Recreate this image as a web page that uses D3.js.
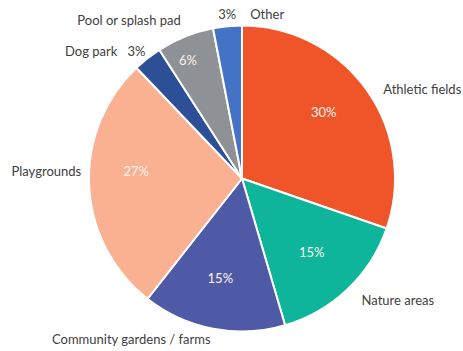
<!DOCTYPE html>
<html>
<head>
<meta charset="utf-8">
<script src="https://cdn.jsdelivr.net/npm/d3@7"></script>
<style>
  html, body { margin: 0; padding: 0; background: #fff; }
  svg { display: block; font-family: Lato, "Open Sans", sans-serif; }
</style>
</head>
<body>
<svg id="chart" width="463" height="351"></svg>
<script>
// Share of responses by amenity type (percent), clockwise from 12 o'clock
const categories = ["Athletic fields", "Nature areas", "Community gardens / farms", "Playgrounds", "Dog park", "Pool or splash pad", "Other"];
const values = [30, 15, 15, 27, 3, 6, 3];
const percentLabels = ["30%", "15%", "15%", "27%", "3%", "6%", "3%"];
const colors = ["#F0552A", "#0EB59B", "#4F5AA7", "#F9B191", "#2D4F96", "#8E9195", "#4472C4"];

const W = 463, H = 351;
const cx = 242, cy = 178.5, r = 153;
const fontSize = 13;

// Per-slice label placement: where the percentage goes (inside or outside)
// and small nudges for the labels around their anchor points.
const pctInside = [true, true, true, true, false, true, false];
const pctRadius = [104, 104, 104, 106, 166, 129, 166];
const nameNudge = [[6, 7], [5, 1.5], [0, -2.5], [5, -15], [-22, 3], [0.5, -4.5], [24, 1]];
const pctNudge = [[-3, -6], [-2, -2], [-2, -3], [0, -13], [6, 3], [-6, 1], [10, 1]];

const svg = d3.select("#chart");
const g = svg.append("g").attr("transform", `translate(${cx},${cy})`);

const pie = d3.pie().sort(null).value(d => d.value);
const arcs = pie(categories.map((c, i) => ({ name: c, value: values[i], i })));
const arc = d3.arc().innerRadius(0).outerRadius(r);

g.selectAll("path.slice")
  .data(arcs)
  .join("path")
  .attr("class", "slice")
  .attr("d", arc)
  .attr("fill", d => colors[d.data.i])
  .attr("stroke", "#fff")
  .attr("stroke-width", 2)
  .attr("stroke-linejoin", "round");

const mid = d => (d.startAngle + d.endAngle) / 2;
const at = (d, R) => [R * Math.sin(mid(d)), -R * Math.cos(mid(d))];

// Percentage labels
g.selectAll("text.pct")
  .data(arcs)
  .join("text")
  .attr("class", "pct")
  .each(function (d) {
    const i = d.data.i;
    const [x, y] = at(d, pctRadius[i]);
    const s = Math.sin(mid(d));
    d3.select(this)
      .attr("x", x + pctNudge[i][0])
      .attr("y", y + pctNudge[i][1])
      .attr("text-anchor", pctInside[i] ? "middle" : (s < 0 ? "end" : "start"))
      .attr("fill", pctInside[i] ? "#FFF4EE" : "#404040");
  })
  .attr("dominant-baseline", "central")
  .attr("font-size", fontSize)
  .text(d => percentLabels[d.data.i]);

// Category name labels
g.selectAll("text.name")
  .data(arcs)
  .join("text")
  .attr("class", "name")
  .each(function (d) {
    const i = d.data.i;
    const [x, y] = at(d, 166);
    const s = Math.sin(mid(d));
    d3.select(this)
      .attr("x", x + nameNudge[i][0])
      .attr("y", y + nameNudge[i][1])
      .attr("text-anchor", i === 6 ? "start" : (s < 0 ? "end" : "start"));
  })
  .attr("dominant-baseline", "central")
  .attr("font-size", fontSize)
  .attr("fill", "#404040")
  .text(d => d.data.name);
</script>
</body>
</html>
